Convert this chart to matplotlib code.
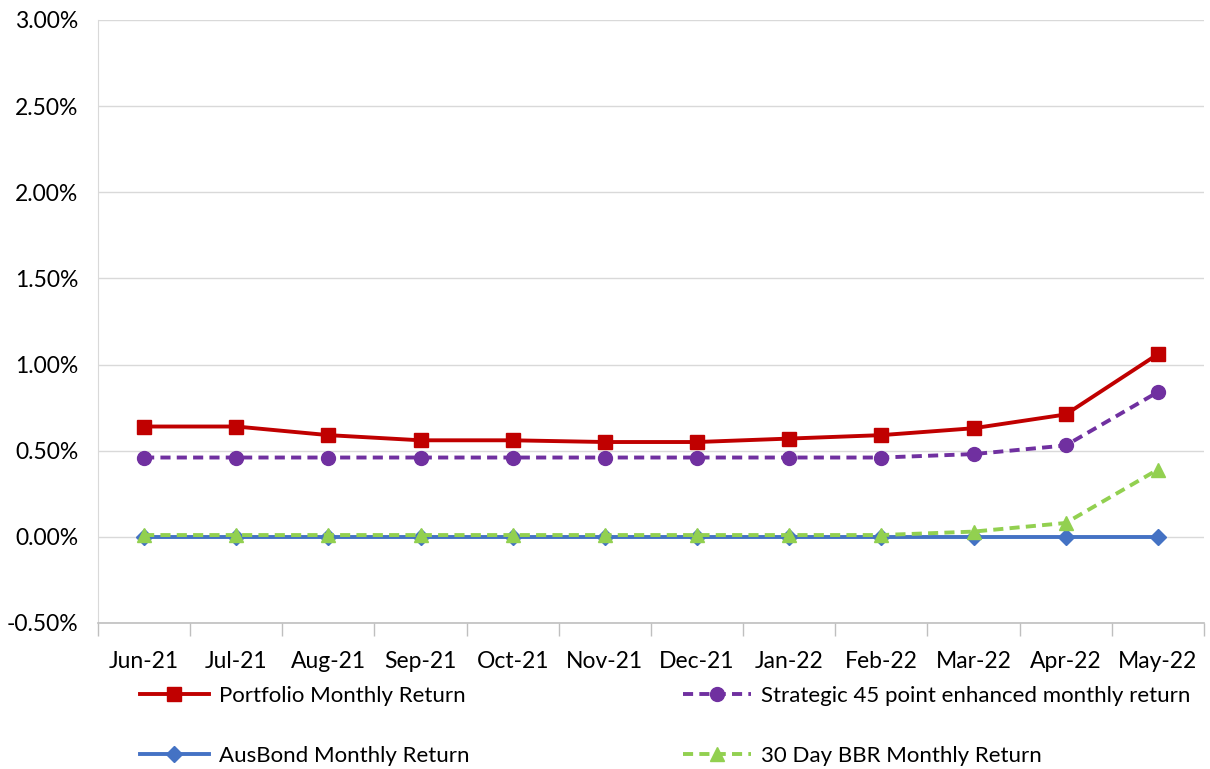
import numpy as np
import matplotlib
matplotlib.use("Agg")
import matplotlib.pyplot as plt
from matplotlib.ticker import FuncFormatter, FixedLocator

months = ["Jun-21", "Jul-21", "Aug-21", "Sep-21", "Oct-21", "Nov-21",
          "Dec-21", "Jan-22", "Feb-22", "Mar-22", "Apr-22", "May-22"]
portfolio = [0.64, 0.64, 0.59, 0.56, 0.56, 0.55, 0.55, 0.57, 0.59, 0.63, 0.71, 1.06]
strategic = [0.46, 0.46, 0.46, 0.46, 0.46, 0.46, 0.46, 0.46, 0.46, 0.48, 0.53, 0.84]
ausbond = [0.00, 0.00, 0.00, 0.00, 0.00, 0.00, 0.00, 0.00, 0.00, 0.00, 0.00, 0.00]
bbr = [0.01, 0.01, 0.01, 0.01, 0.01, 0.01, 0.01, 0.01, 0.01, 0.03, 0.08, 0.39]

plt.rcParams['font.family'] = ['Lato', 'DejaVu Sans']
fs = 16.5

fig = plt.figure(figsize=(12.1, 7.69), dpi=100)
ax = fig.add_axes([0.081, 0.19, 0.914, 0.784])

x = np.arange(len(months))
l_p, = ax.plot(x, portfolio, color="#c00000", lw=2.8, marker="s", markersize=10,
               label="Portfolio Monthly Return", zorder=4)
l_s, = ax.plot(x, strategic, color="#7030a0", lw=2.8, ls=(0, (2.6, 1.6)), marker="o",
               markersize=10, label="Strategic 45 point enhanced monthly return", zorder=3)
l_a, = ax.plot(x, ausbond, color="#4472c4", lw=2.8, marker="D", markersize=8,
               label="AusBond Monthly Return", zorder=2)
l_b, = ax.plot(x, bbr, color="#92d050", lw=2.8, ls=(0, (2.6, 1.6)), marker="^",
               markersize=10, label="30 Day BBR Monthly Return", zorder=3)

ax.set_xlim(-0.5, len(months) - 0.5)
ax.set_ylim(-0.5, 3.0)
ax.set_yticks(np.arange(-0.5, 3.01, 0.5))
ax.yaxis.set_major_formatter(FuncFormatter(lambda v, p: f"{v:.2f}%"))
ax.grid(axis="y", color="#d9d9d9", lw=1)
ax.set_axisbelow(True)

ax.set_xticks(x)
ax.set_xticklabels(months)
ax.xaxis.set_minor_locator(FixedLocator(np.arange(-0.5, len(months), 1)))
ax.tick_params(axis="x", which="major", length=0, pad=20, labelsize=fs)
ax.tick_params(axis="x", which="minor", length=9, color="#bfbfbf", width=1)
ax.tick_params(axis="y", length=0, labelsize=fs, pad=14)

for s in ["top", "right"]:
    ax.spines[s].set_visible(False)
ax.spines["left"].set_color("#d9d9d9")
ax.spines["bottom"].set_color("#bfbfbf")
ax.spines["bottom"].set_linewidth(1.2)

fig.legend([l_p, l_a, l_s, l_b],
           [l_p.get_label(), l_a.get_label(), l_s.get_label(), l_b.get_label()],
           ncol=2, loc="lower left", bbox_to_anchor=(0.099, -0.022),
           frameon=False, fontsize=16, handlelength=3.1, handletextpad=0.45,
           columnspacing=9.6, labelspacing=1.8)

fig.savefig("out.png", dpi=100)
